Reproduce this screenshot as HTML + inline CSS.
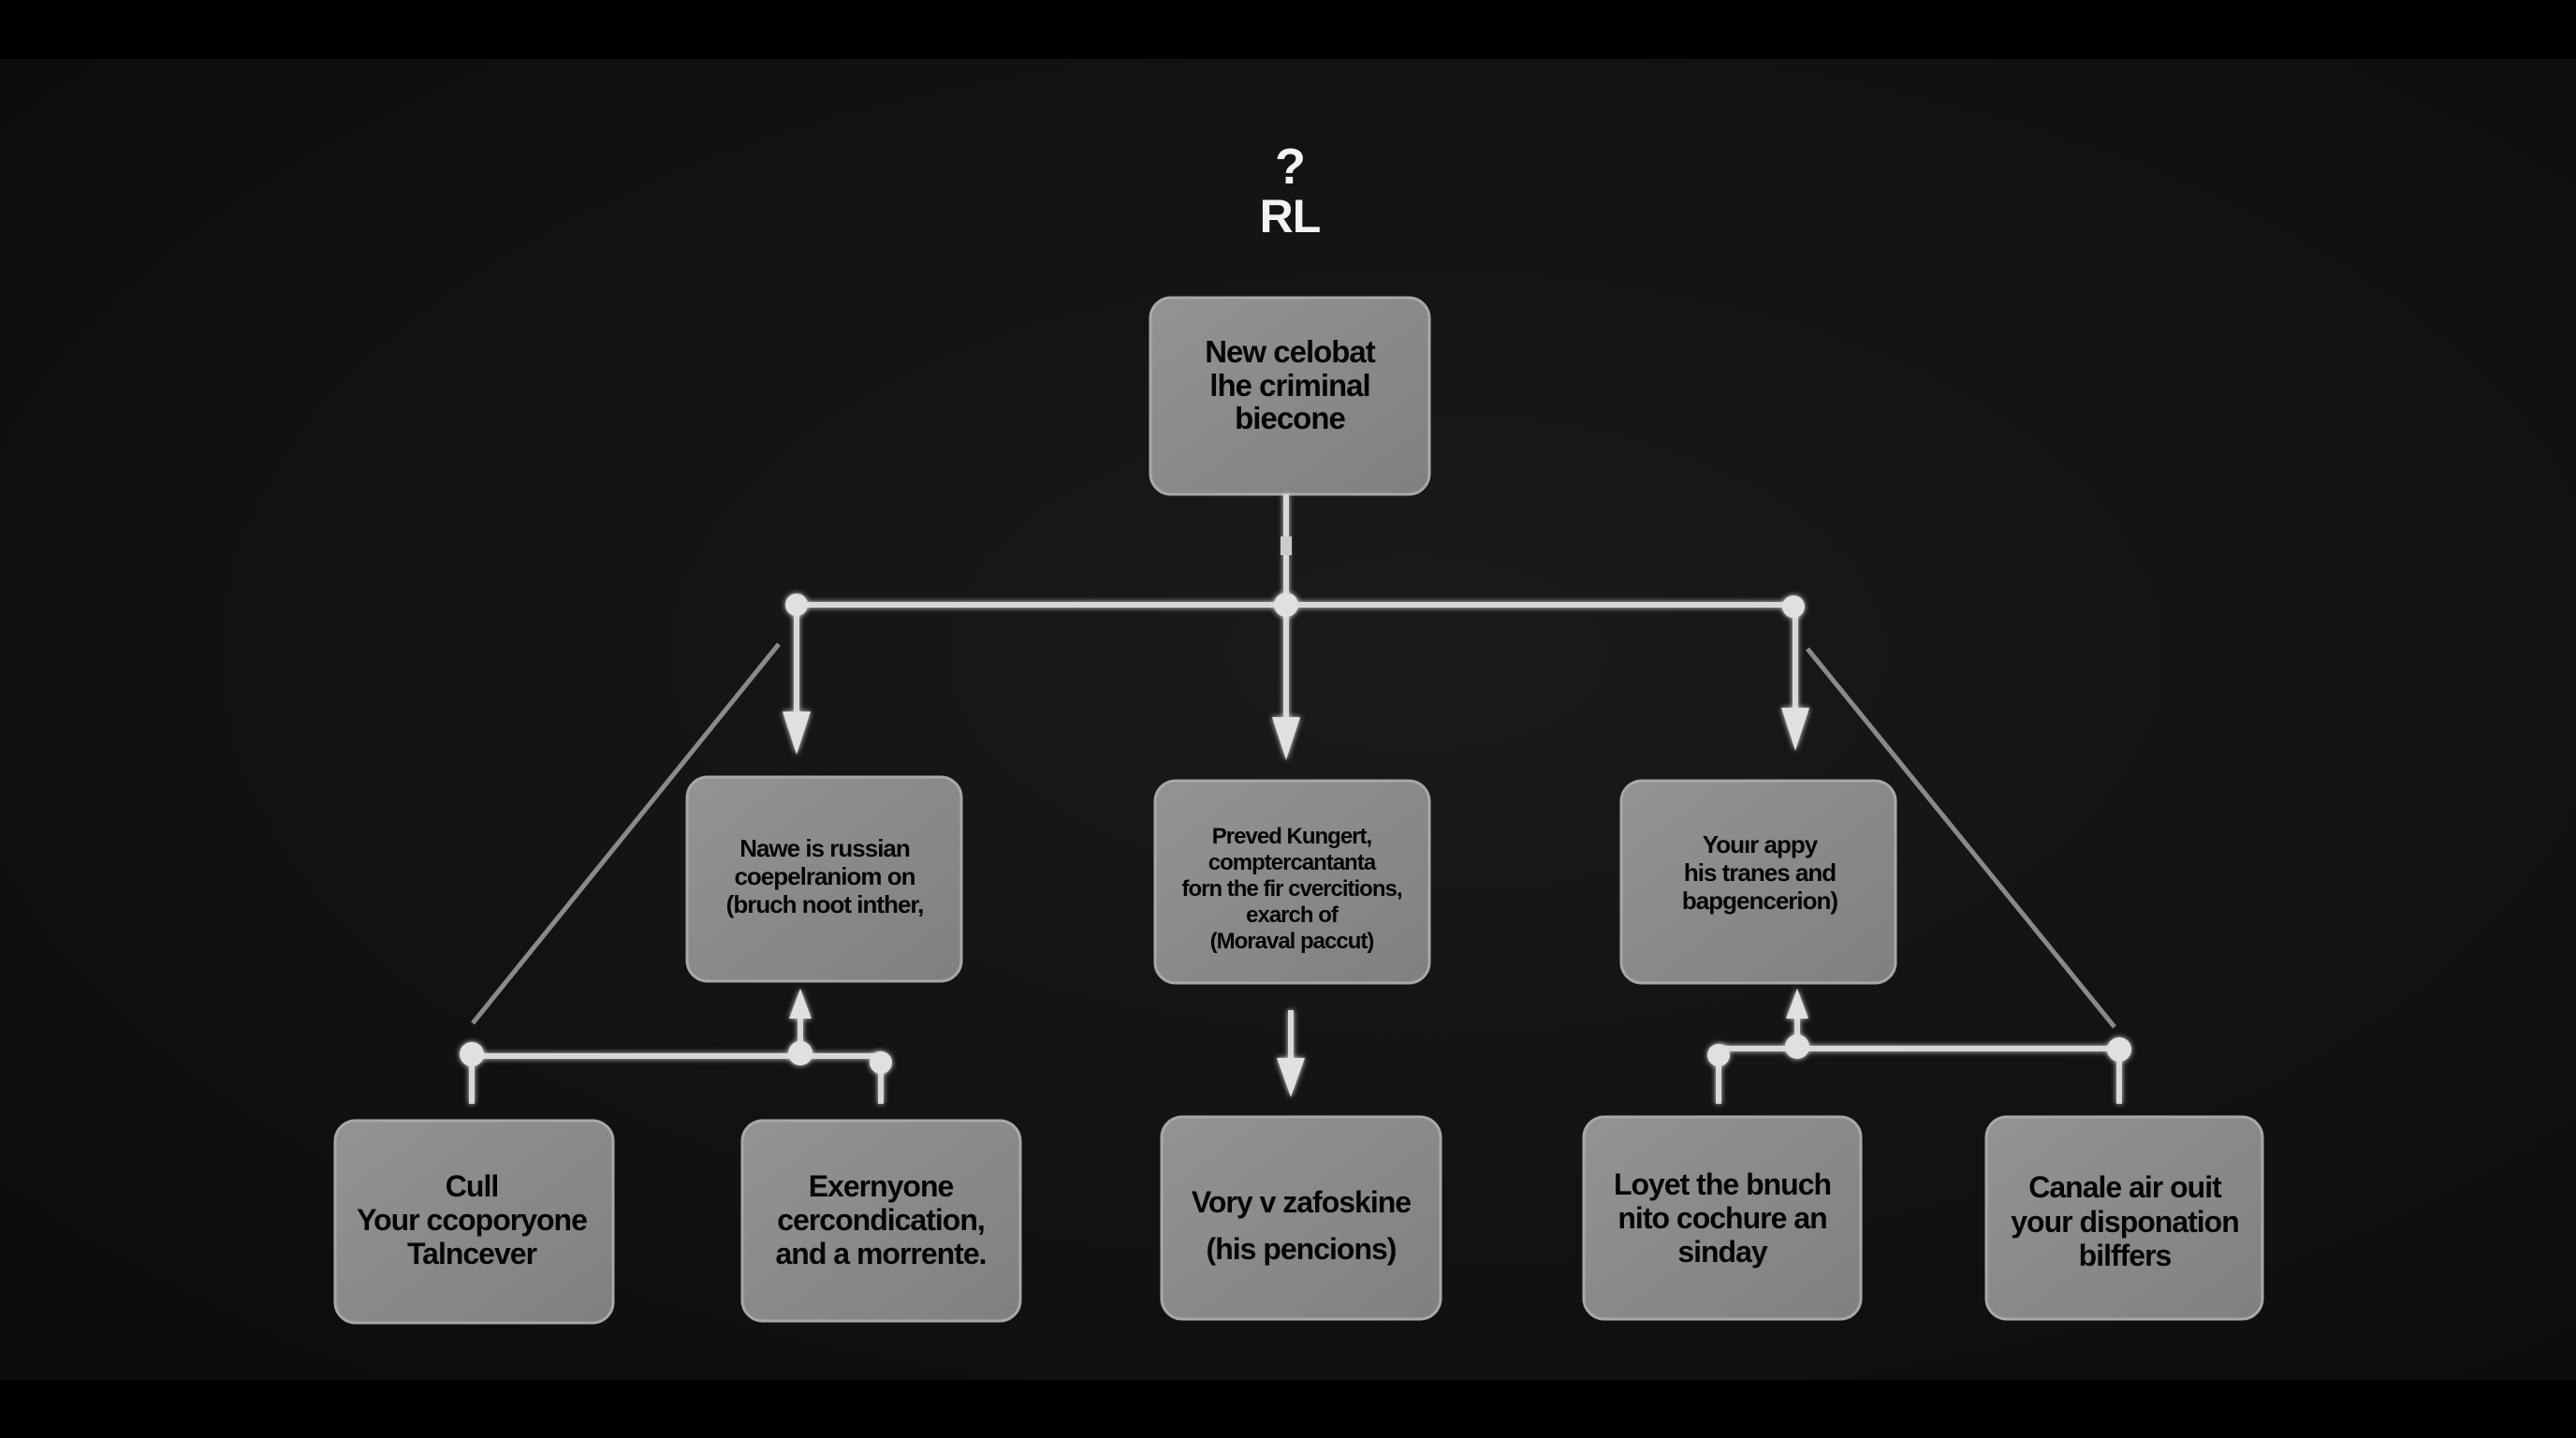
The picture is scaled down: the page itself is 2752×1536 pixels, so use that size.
<!DOCTYPE html>
<html><head><meta charset="utf-8"><style>
html,body{margin:0;padding:0;background:#000;}
svg{display:block}
text{font-family:"Liberation Sans",sans-serif;font-weight:bold;text-anchor:middle;fill:#050505;letter-spacing:-1px}
</style></head><body>
<svg width="2752" height="1536" viewBox="0 0 2752 1536" xmlns="http://www.w3.org/2000/svg">
<defs>
<radialGradient id="bg" cx="55%" cy="45%" r="70%">
<stop offset="0" stop-color="#1a1a1a"/><stop offset="1" stop-color="#0d0d0d"/>
</radialGradient>
<linearGradient id="box" x1="0" y1="0" x2="1" y2="1">
<stop offset="0" stop-color="#939393"/><stop offset="1" stop-color="#808080"/>
</linearGradient>
<filter id="glow"><feGaussianBlur stdDeviation="3" result="b"/><feMerge><feMergeNode in="b"/><feMergeNode in="SourceGraphic"/></feMerge></filter>
</defs>
<rect width="2752" height="1536" fill="#000"/>
<rect x="0" y="63" width="2752" height="1411" fill="url(#bg)"/>
<text x="1378" y="196" style="fill:#f2f2f2;font-size:54px">?</text>
<text x="1378" y="248" style="fill:#f2f2f2;font-size:50px">RL</text>

<g fill="url(#box)" stroke="#a8a8a8" stroke-width="3">
<rect x="1229" y="318" width="298" height="210" rx="22"/>
<rect x="734" y="830" width="293" height="218" rx="22"/>
<rect x="1234" y="834" width="293" height="216" rx="22"/>
<rect x="1732" y="834" width="293" height="216" rx="22"/>
<rect x="358" y="1197" width="297" height="216" rx="22"/>
<rect x="793" y="1197" width="297" height="214" rx="22"/>
<rect x="1241" y="1193" width="298" height="216" rx="22"/>
<rect x="1692" y="1193" width="296" height="216" rx="22"/>
<rect x="2122" y="1193" width="295" height="216" rx="22"/>
</g>

<g stroke="#d8d8d8" stroke-width="6" fill="none" filter="url(#glow)">
<line x1="1374" y1="528" x2="1374" y2="644"/>
<line x1="851" y1="646" x2="1916" y2="646"/>
<line x1="851" y1="646" x2="851" y2="770"/>
<line x1="1374" y1="646" x2="1374" y2="775"/>
<line x1="1918" y1="646" x2="1918" y2="765"/>
<line x1="1379" y1="1079" x2="1379" y2="1135"/>
<line x1="504" y1="1128" x2="941" y2="1128"/>
<line x1="504" y1="1128" x2="504" y2="1179"/>
<line x1="941" y1="1135" x2="941" y2="1179"/>
<line x1="855" y1="1128" x2="855" y2="1085"/>
<line x1="1836" y1="1120" x2="2264" y2="1120"/>
<line x1="1836" y1="1125" x2="1836" y2="1179"/>
<line x1="2264" y1="1122" x2="2264" y2="1179"/>
<line x1="1920" y1="1120" x2="1920" y2="1085"/>
</g>
<g stroke="#8a8a8a" stroke-width="5">
<line x1="832" y1="688" x2="505" y2="1093"/>
<line x1="1931" y1="693" x2="2259" y2="1097"/>
</g>
<rect x="1368" y="573" width="12" height="20" fill="#ccc"/>
<g fill="#e0e0e0" filter="url(#glow)">
<polygon points="836,760 866,760 851,806"/>
<polygon points="1359,766 1389,766 1374,812"/>
<polygon points="1903,756 1933,756 1918,802"/>
<polygon points="1364,1130 1394,1130 1379,1172"/>
<polygon points="843,1088 867,1088 855,1056"/>
<polygon points="1908,1088 1932,1088 1920,1056"/>
<circle cx="851" cy="646" r="12"/><circle cx="1374" cy="646" r="13"/><circle cx="1916" cy="648" r="12"/>
<circle cx="504" cy="1126" r="13"/><circle cx="855" cy="1125" r="13"/><circle cx="941" cy="1135" r="12"/>
<circle cx="1836" cy="1127" r="12"/><circle cx="1920" cy="1118" r="13"/><circle cx="2264" cy="1121" r="13"/>
</g>

<g style="font-size:33px">
<text x="1378" y="387">New celobat</text>
<text x="1378" y="423">lhe criminal</text>
<text x="1378" y="458">biecone</text>
</g>
<g style="font-size:26px">
<text x="881" y="915">Nawe is russian</text>
<text x="881" y="945">coepelraniom on</text>
<text x="881" y="975">(bruch noot inther,</text>
<text x="1880" y="911">Youır appy</text>
<text x="1880" y="941">his tranes and</text>
<text x="1880" y="971">bapgencerion)</text>
</g>
<g style="font-size:24px">
<text x="1380" y="901">Preved Kungert,</text>
<text x="1380" y="929">comptercantanta</text>
<text x="1380" y="957">forn the fir cvercitions,</text>
<text x="1380" y="985">exarch of</text>
<text x="1380" y="1013">(Moraval paccut)</text>
</g>
<g style="font-size:32px">
<text x="504" y="1278">Cull</text>
<text x="504" y="1314">Your ccoporyone</text>
<text x="504" y="1350">Talncever</text>
<text x="941" y="1278">Exernyone</text>
<text x="941" y="1314">cercondication,</text>
<text x="941" y="1350">and a morrente.</text>
<text x="1390" y="1295">Vory v zafoskine</text>
<text x="1390" y="1345">(his pencions)</text>
<text x="1840" y="1276">Loyet the bnuch</text>
<text x="1840" y="1312">nito cochure an</text>
<text x="1840" y="1348">sinday</text>
<text x="2270" y="1279">Canale air ouit</text>
<text x="2270" y="1316">your disponation</text>
<text x="2270" y="1352">bilffers</text>
</g>
</svg>
</body></html>
